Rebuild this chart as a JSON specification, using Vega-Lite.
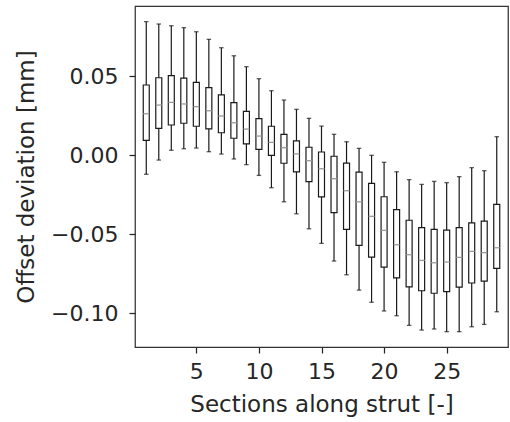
{
  "$schema": "https://vega.github.io/schema/vega-lite/v6.json",
  "width": 373,
  "height": 341,
  "autosize": {"type": "none"},
  "padding": {"left": 135, "top": 6, "right": 2, "bottom": 75},
  "background": "white",
  "config": {
    "view": {"stroke": "#333333", "strokeWidth": 1.25},
    "font": "DejaVu Sans",
    "axis": {
      "grid": false,
      "domain": false,
      "tickColor": "#262626",
      "tickWidth": 1.25,
      "tickSize": 6,
      "labelFont": "DejaVu Sans",
      "labelFontSize": 22,
      "labelColor": "#262626",
      "titleFont": "DejaVu Sans",
      "titleFontSize": 23,
      "titleFontWeight": "normal",
      "titleColor": "#262626"
    }
  },
  "data": {
    "values": [
      {"sec": 1, "wb": -0.0120, "q1": 0.0095, "med": 0.0263, "q3": 0.0445, "wt": 0.0846},
      {"sec": 2, "wb": -0.0030, "q1": 0.0171, "med": 0.0318, "q3": 0.0491, "wt": 0.0831},
      {"sec": 3, "wb": 0.0032, "q1": 0.0192, "med": 0.0335, "q3": 0.0504, "wt": 0.0820},
      {"sec": 4, "wb": 0.0042, "q1": 0.0203, "med": 0.0325, "q3": 0.0489, "wt": 0.0808},
      {"sec": 5, "wb": 0.0046, "q1": 0.0184, "med": 0.0308, "q3": 0.0462, "wt": 0.0782},
      {"sec": 6, "wb": 0.0023, "q1": 0.0168, "med": 0.0282, "q3": 0.0428, "wt": 0.0734},
      {"sec": 7, "wb": 0.0008, "q1": 0.0143, "med": 0.0249, "q3": 0.0382, "wt": 0.0681},
      {"sec": 8, "wb": -0.0023, "q1": 0.0108, "med": 0.0206, "q3": 0.0333, "wt": 0.0630},
      {"sec": 9, "wb": -0.0059, "q1": 0.0073, "med": 0.0166, "q3": 0.0278, "wt": 0.0561},
      {"sec": 10, "wb": -0.0127, "q1": 0.0038, "med": 0.0122, "q3": 0.0232, "wt": 0.0485},
      {"sec": 11, "wb": -0.0205, "q1": 0.0000, "med": 0.0082, "q3": 0.0184, "wt": 0.0409},
      {"sec": 12, "wb": -0.0294, "q1": -0.0050, "med": 0.0048, "q3": 0.0133, "wt": 0.0350},
      {"sec": 13, "wb": -0.0370, "q1": -0.0105, "med": 0.0009, "q3": 0.0092, "wt": 0.0291},
      {"sec": 14, "wb": -0.0465, "q1": -0.0167, "med": -0.0034, "q3": 0.0051, "wt": 0.0234},
      {"sec": 15, "wb": -0.0557, "q1": -0.0263, "med": -0.0085, "q3": 0.0021, "wt": 0.0185},
      {"sec": 16, "wb": -0.0669, "q1": -0.0363, "med": -0.0148, "q3": -0.0006, "wt": 0.0133},
      {"sec": 17, "wb": -0.0756, "q1": -0.0468, "med": -0.0224, "q3": -0.0049, "wt": 0.0086},
      {"sec": 18, "wb": -0.0853, "q1": -0.0570, "med": -0.0294, "q3": -0.0106, "wt": 0.0044},
      {"sec": 19, "wb": -0.0930, "q1": -0.0644, "med": -0.0386, "q3": -0.0177, "wt": 0.0000},
      {"sec": 20, "wb": -0.0985, "q1": -0.0707, "med": -0.0475, "q3": -0.0262, "wt": -0.0044},
      {"sec": 21, "wb": -0.1015, "q1": -0.0775, "med": -0.0566, "q3": -0.0344, "wt": -0.0104},
      {"sec": 22, "wb": -0.1076, "q1": -0.0832, "med": -0.0629, "q3": -0.0411, "wt": -0.0154},
      {"sec": 23, "wb": -0.1106, "q1": -0.0857, "med": -0.0665, "q3": -0.0458, "wt": -0.0184},
      {"sec": 24, "wb": -0.1099, "q1": -0.0873, "med": -0.0680, "q3": -0.0468, "wt": -0.0165},
      {"sec": 25, "wb": -0.1116, "q1": -0.0863, "med": -0.0675, "q3": -0.0473, "wt": -0.0173},
      {"sec": 26, "wb": -0.1116, "q1": -0.0834, "med": -0.0646, "q3": -0.0458, "wt": -0.0135},
      {"sec": 27, "wb": -0.1085, "q1": -0.0808, "med": -0.0608, "q3": -0.0428, "wt": -0.0078},
      {"sec": 28, "wb": -0.1070, "q1": -0.0796, "med": -0.0616, "q3": -0.0416, "wt": -0.0097},
      {"sec": 29, "wb": -0.0990, "q1": -0.0715, "med": -0.0585, "q3": -0.0310, "wt": 0.0118}
    ]
  },
  "encoding": {
    "x": {
      "field": "sec",
      "type": "quantitative",
      "scale": {"domain": [0.5, 29.5], "nice": false, "zero": false},
      "axis": {
        "values": [5, 10, 15, 20, 25],
        "format": "d",
        "title": "Sections along strut [-]",
        "labelPadding": 8,
        "titleY": 64.7,
        "titleBaseline": "alphabetic"
      }
    }
  },
  "layer": [
    {
      "mark": {"type": "rule", "color": "#1a1a1a", "strokeWidth": 1.2},
      "encoding": {
        "y": {
          "field": "wb",
          "type": "quantitative",
          "scale": {"domain": [-0.1213, 0.0945], "nice": false, "zero": false},
          "axis": {
            "values": [-0.1, -0.05, 0, 0.05],
            "format": ".2f",
            "title": "Offset deviation [mm]",
            "labelPadding": 11,
            "titleX": -102,
            "titleBaseline": "alphabetic"
          }
        },
        "y2": {"field": "wt"}
      }
    },
    {
      "mark": {"type": "tick", "orient": "horizontal", "color": "#1a1a1a", "size": 4.5, "thickness": 1.3},
      "encoding": {"y": {"field": "wt", "type": "quantitative"}}
    },
    {
      "mark": {"type": "tick", "orient": "horizontal", "color": "#1a1a1a", "size": 4.5, "thickness": 1.3},
      "encoding": {"y": {"field": "wb", "type": "quantitative"}}
    },
    {
      "mark": {"type": "bar", "fill": "white", "stroke": "#1a1a1a", "strokeWidth": 1.2, "size": 6},
      "encoding": {
        "y": {"field": "q1", "type": "quantitative"},
        "y2": {"field": "q3"}
      }
    },
    {
      "mark": {"type": "tick", "orient": "horizontal", "color": "#9a9a9a", "size": 6, "thickness": 1.3, "opacity": 1},
      "encoding": {"y": {"field": "med", "type": "quantitative"}}
    }
  ]
}
